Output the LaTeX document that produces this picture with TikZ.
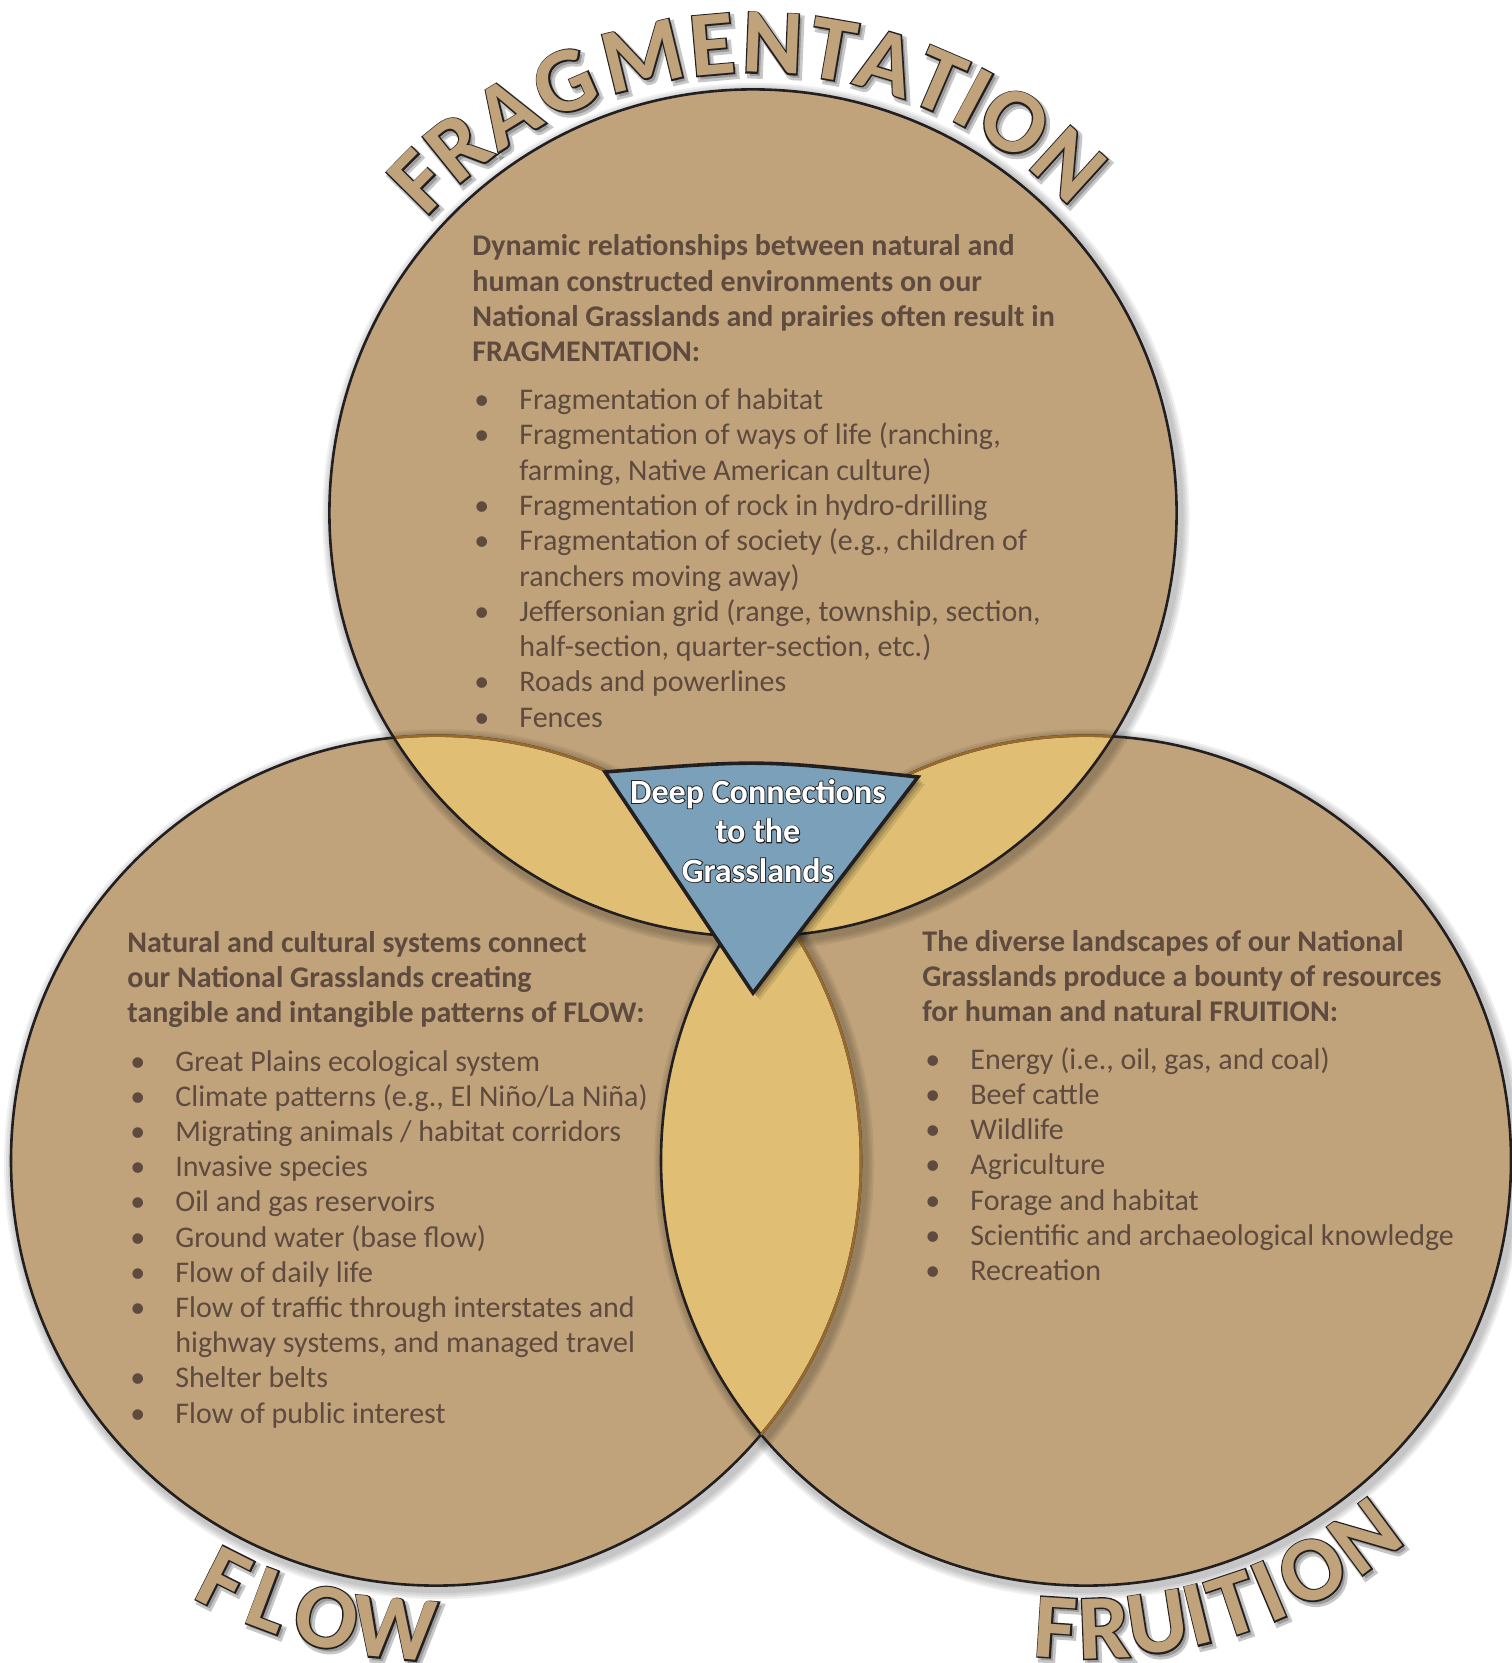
\documentclass[tikz,border=0pt]{standalone}
\usepackage{fontspec}
\setmainfont{Carlito}
\newfontfamily\archfont{Carlito Bold}
\newfontfamily\archedgefont[FakeBold=3]{Carlito Bold}
\newfontfamily\archshadefont[FakeBold=6]{Carlito Bold}
\newfontfamily\tagfont{Carlito Bold}
\newfontfamily\tagedgefont[FakeBold=5]{Carlito Bold}
\usetikzlibrary{calc}

\definecolor{discfill}{HTML}{C0A37B}
\definecolor{lensfill}{HTML}{E0BF74}
\definecolor{tagfill}{HTML}{7BA1BA}
\definecolor{inkbrown}{HTML}{5E4A3E}
\definecolor{rimbrown}{HTML}{9A6A2C}
\definecolor{edgeblack}{HTML}{231F20}

\tikzset{
  body/.style={anchor=base west, inner sep=0pt, text=inkbrown,
    font=\fontsize{15}{17.65}\selectfont},
  head/.style={body, font=\fontsize{15}{17.65}\selectfont\bfseries},
  archshade/.style={inner sep=0pt, text=black, opacity=0.22,
    font=\fontsize{46}{46}\archshadefont},
  archedge/.style={inner sep=0pt, text=edgeblack,
    font=\fontsize{46}{46}\archedgefont},
  archfill/.style={inner sep=0pt, text=discfill,
    font=\fontsize{46}{46}\archfont},
  tagedge/.style={anchor=base, inner sep=0pt, text=edgeblack,
    font=\fontsize{17}{17}\tagedgefont},
  tagtext/.style={anchor=base, inner sep=0pt, text=white,
    font=\fontsize{17}{17}\tagfont},
  rim/.style={line width=1.3pt},
}

% one outlined letter set on an arc round a centre:
% name, centre, angle, radius, turn, glyph
\newcommand\arcletter[6]{%
  \coordinate (#1) at ($(#2)+({#4*cos(#3)},{-#4*sin(#3)})$);
  \node[archshade, rotate={#3+#5}] (#1s) at ($(#1)+(3,3.5)$) {#6};
  \node[archedge, rotate={#3+#5}] (#1e) at (#1) {#6};
  \node[archfill, rotate={#3+#5}] (#1f) at (#1) {#6};
}

\begin{document}
\begin{tikzpicture}[x=0.5pt, y=-0.5pt]
\useasboundingbox (0,0) rectangle (1511,1663);
\fill[white] (0,0) rectangle (1511,1663);

\coordinate (TC) at (753,513);
\coordinate (LC) at (436,1160.6);
\coordinate (RC) at (1086,1160.6);
\def\rt{211.8pt}
\def\rl{212.5pt}

% discs
\fill[discfill] (LC) circle[radius=\rl];
\fill[discfill] (RC) circle[radius=\rl];
\fill[discfill] (TC) circle[radius=\rt];

% overlaps
\begin{scope}
  \clip (LC) circle[radius=\rl];
  \fill[lensfill] (TC) circle[radius=\rt];
  \fill[lensfill] (RC) circle[radius=\rl];
\end{scope}
\begin{scope}
  \clip (RC) circle[radius=\rl];
  \fill[lensfill] (TC) circle[radius=\rt];
\end{scope}

% soft shadows just outside each disc
\foreach \c/\r in {LC/\rl, RC/\rl, TC/\rt} {
  \foreach \k in {0,1,2,3} {
    \fill[black, opacity=0.06, even odd rule]
      ($(\c)+(3,3.5)$) circle[radius={\r+2pt+\k*1pt}]
      (\c) circle[radius=\r];
  }
}

% outlines: lower discs show a brown rim where covered
\draw[rim, edgeblack] (LC) circle[radius=\rl];
\draw[rim, edgeblack] (RC) circle[radius=\rl];
\begin{scope}
  \clip (RC) circle[radius=\rl];
  \draw[rim, rimbrown] (LC) circle[radius=\rl];
\end{scope}
\begin{scope}
  \clip (TC) circle[radius=\rt];
  \draw[rim, rimbrown] (LC) circle[radius=\rl];
  \draw[rim, rimbrown] (RC) circle[radius=\rl];
\end{scope}
\draw[rim, edgeblack] (TC) circle[radius=\rt];

% central triangle
\coordinate (ta) at (605,772);
\coordinate (tb) at (918,777);
\coordinate (tc) at (753,993);
\foreach \s/\o in {7/0.10, 5/0.12, 3/0.15} {
  \fill[black, opacity=\o] ($(ta)+(\s,\s)$) .. controls ($(761,759.5)+(\s,\s)$) .. ($(tb)+(\s,\s)$)
    -- ($(tc)+(\s,\s)$) -- cycle;
}
\filldraw[fill=tagfill, draw=edgeblack, line width=1.8pt, line join=miter]
  (ta) .. controls (761,759.5) .. (tb) -- (tc) -- cycle;

\foreach \t/\y [count=\i] in {Deep Connections/803, to the/842.5, Grasslands/882} {
  \node[tagedge] (dce\i) at (758,\y) {\t};
  \node[tagtext] (dct\i) at (758,\y) {\t};
}

% FRAGMENTATION disc text
\foreach \t [count=\i from 0] in {
  Dynamic relationships between natural and,
  human constructed environments on our,
  National Grasslands and prairies often result in,
  FRAGMENTATION:} {
  \node[head] (fh\i) at (472,{256+35.3*\i}) {\t};
}
\foreach \b/\t [count=\i from 0] in {
  1/{Fragmentation of habitat},
  1/{Fragmentation of ways of life (ranching,},
  0/{farming, Native American culture)},
  1/{Fragmentation of rock in hydro-drilling},
  1/{Fragmentation of society (e.g., children of},
  0/{ranchers moving away)},
  1/{Jeffersonian grid (range, township, section,},
  0/{half-section, quarter-section, etc.)},
  1/{Roads and powerlines},
  1/{Fences}} {
  \ifnum\b=1 \node[body] (fb\i) at (474,{409.5+35.3*\i}) {•};\fi
  \node[body] (ft\i) at (519,{409.5+35.3*\i}) {\t};
}

% FLOW disc text
\foreach \t [count=\i from 0] in {
  Natural and cultural systems connect,
  our National Grasslands creating,
  tangible and intangible patterns of FLOW:} {
  \node[head] (lh\i) at (127,{952+35.3*\i}) {\t};
}
\foreach \b/\t [count=\i from 0] in {
  1/{Great Plains ecological system},
  1/{Climate patterns (e.g., El Niño/La Niña)},
  1/{Migrating animals / habitat corridors},
  1/{Invasive species},
  1/{Oil and gas reservoirs},
  1/{Ground water (base flow)},
  1/{Flow of daily life},
  1/{Flow of traffic through interstates and},
  0/{highway systems, and managed travel},
  1/{Shelter belts},
  1/{Flow of public interest}} {
  \ifnum\b=1 \node[body] (lb\i) at (130,{1071+35.2*\i}) {•};\fi
  \node[body] (lt\i) at (175,{1071+35.2*\i}) {\t};
}

% FRUITION disc text
\foreach \t [count=\i from 0] in {
  The diverse landscapes of our National,
  Grasslands produce a bounty of resources,
  for human and natural FRUITION:} {
  \node[head] (rh\i) at (922,{951+35.3*\i}) {\t};
}
\foreach \t [count=\i from 0] in {
  {Energy (i.e., oil, gas, and coal)},
  {Beef cattle},
  {Wildlife},
  {Agriculture},
  {Forage and habitat},
  {Scientific and archaeological knowledge},
  {Recreation}} {
  \node[body] (rb\i) at (925,{1069+35.3*\i}) {•};
  \node[body] (rt\i) at (970,{1069+35.3*\i}) {\t};
}

% arched titles
\arcletter{g1}{TC}{135.2}{470}{-90}{F}
\arcletter{g2}{TC}{128.9}{470}{-90}{R}
\arcletter{g3}{TC}{121.6}{470}{-90}{A}
\arcletter{g4}{TC}{113.6}{470}{-90}{G}
\arcletter{g5}{TC}{103.6}{470}{-90}{M}
\arcletter{g6}{TC}{95.0}{470}{-90}{E}
\arcletter{g7}{TC}{87.6}{470}{-90}{N}
\arcletter{g8}{TC}{80.2}{470}{-90}{T}
\arcletter{g9}{TC}{73.5}{470}{-90}{A}
\arcletter{g10}{TC}{66.7}{470}{-90}{T}
\arcletter{g11}{TC}{62.0}{470}{-90}{I}
\arcletter{g12}{TC}{56.2}{470}{-90}{O}
\arcletter{g13}{TC}{47.8}{470}{-90}{N}

\arcletter{w1}{LC}{243.2}{470}{90}{F}
\arcletter{w2}{LC}{249.4}{470}{90}{L}
\arcletter{w3}{LC}{256.5}{470}{90}{O}
\arcletter{w4}{LC}{265.0}{470}{90}{W}

\arcletter{u1}{RC}{266.3}{468}{90}{F}
\arcletter{u2}{RC}{272.2}{468}{90}{R}
\arcletter{u3}{RC}{278.8}{468}{90}{U}
\arcletter{u4}{RC}{283.8}{468}{90}{I}
\arcletter{u5}{RC}{288.4}{468}{90}{T}
\arcletter{u6}{RC}{293.0}{468}{90}{I}
\arcletter{u7}{RC}{298.9}{468}{90}{O}
\arcletter{u8}{RC}{306.6}{468}{90}{N}
\end{tikzpicture}
\end{document}
